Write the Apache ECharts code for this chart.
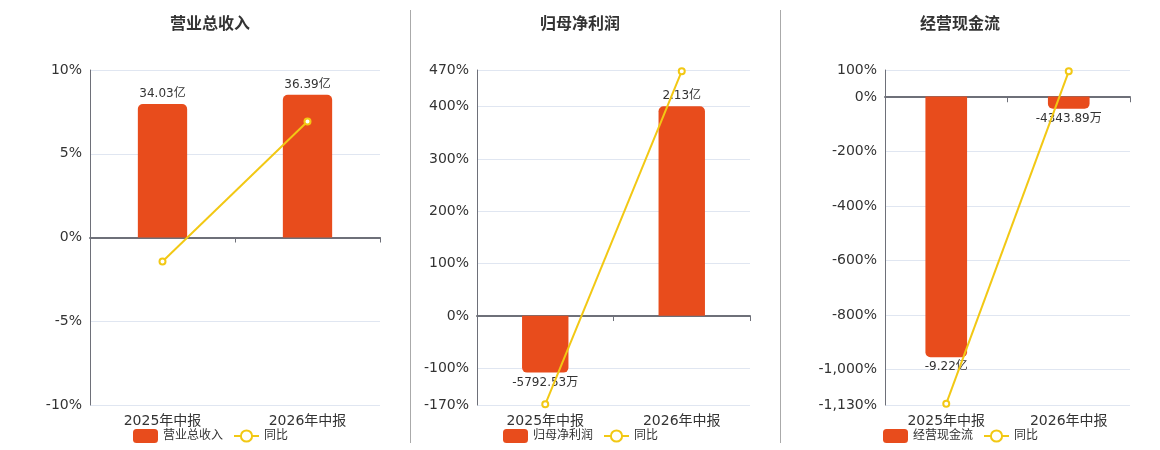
<!DOCTYPE html>
<html><head><meta charset="utf-8">
<script src="https://cdn.jsdelivr.net/npm/echarts@6/dist/echarts.min.js"></script>
<style>html,body{margin:0;padding:0;background:#fff}#c{width:1160px;height:450px}</style>
</head><body><div id="c"></div>
<script>
// ---- data ----
const categories = ['2025年中报', '2026年中报'];
const panelTitles = ['营业总收入', '归母净利润', '经营现金流'];
const yoyName = '同比';
// bar values in 亿
const revenueValues = [34.03, 36.39];
const revenueLabels = ['34.03亿', '36.39亿'];
const revenueYoY = [-1.43, 6.93];
const profitValues = [-0.579253, 2.13];
const profitLabels = ['-5792.53万', '2.13亿'];
const profitYoY = [-168.6, 467.7];
const cashValues = [-9.22, -0.434389];
const cashLabels = ['-9.22亿', '-4343.89万'];
const cashYoY = [-1125, 95.29];
// percentage tick labels
const revenueTicks = [-10, -5, 0, 5, 10];
const profitTicks = [-170, -100, 0, 100, 200, 300, 400, 470];
const cashTicks = [-1130, -1000, -800, -600, -400, -200, 0, 100];

// ---- layout / style ----
const FONT = "'DejaVu Sans','Noto Sans CJK SC',sans-serif";
const BAR_COLOR = '#E84C1C';
const LINE_COLOR = '#F2C814';
const panels = [
  { values: revenueValues, labels: revenueLabels, yoy: revenueYoY, ticks: revenueTicks,
    grid: { left: 90, right: 780 }, center: 210, legendLeft: 128, barRange: [-42.7, 42.7] },
  { values: profitValues, labels: profitLabels, yoy: profitYoY, ticks: profitTicks,
    grid: { left: 477, right: 410 }, center: 580, legendLeft: 498, barRange: [-0.909, 2.50] },
  { values: cashValues, labels: cashLabels, yoy: cashYoY, ticks: cashTicks,
    grid: { left: 885, right: 30 }, center: 960, legendLeft: 878, barRange: [-10.91, 0.934] }
];

const fmtPct = v => Number(v).toLocaleString('en-US') + '%';

const option = {
  animation: false,
  textStyle: { fontFamily: FONT },
  title: [], legend: [], grid: [], xAxis: [], yAxis: [], series: [],
  graphic: [
    { type: 'line', shape: { x1: 410.5, y1: 10, x2: 410.5, y2: 443 }, style: { stroke: '#aaaaaa', lineWidth: 1 } },
    { type: 'line', shape: { x1: 780.5, y1: 10, x2: 780.5, y2: 443 }, style: { stroke: '#aaaaaa', lineWidth: 1 } }
  ]
};

panels.forEach((p, i) => {
  option.title.push({
    text: panelTitles[i], left: p.center - 5, top: 12, textAlign: 'center',
    textStyle: { fontSize: 16, fontWeight: 'bold', color: '#333', fontFamily: FONT }
  });
  option.legend.push({
    left: p.legendLeft, top: 424, itemWidth: 25, itemHeight: 14, itemGap: 10,
    textStyle: { fontSize: 12, color: '#333', fontFamily: FONT },
    data: [panelTitles[i], yoyName]
  });
  option.grid.push({ left: p.grid.left, right: p.grid.right, top: 70, bottom: 45, containLabel: false });
  // label axis at bottom
  option.xAxis.push({
    type: 'category', gridIndex: i, data: categories, position: 'bottom',
    axisLine: { show: false, onZero: false }, axisTick: { show: false },
    axisLabel: { fontSize: 14, color: '#333', margin: 9, fontFamily: FONT }
  });
  // zero line axis
  option.xAxis.push({
    type: 'category', gridIndex: i, data: categories, position: 'bottom',
    axisLine: { show: true, onZero: true, onZeroAxisIndex: 2 * i, lineStyle: { color: '#6E7079', width: 2 } },
    axisTick: { show: true, length: 5, lineStyle: { color: '#6E7079' } },
    axisLabel: { show: false }
  });
  const tMin = p.ticks[0], tMax = p.ticks[p.ticks.length - 1];
  const yPct = {
    type: 'value', gridIndex: i, min: tMin, max: tMax, position: 'left',
    axisLine: { show: true, lineStyle: { color: '#6E7079' } },
    axisTick: { show: false, customValues: p.ticks },
    axisLabel: { fontSize: 14, color: '#333', fontFamily: FONT, formatter: fmtPct, customValues: p.ticks },
    splitLine: { show: true, lineStyle: { color: '#E0E6F1' } }
  };
  if (i === 0) { yPct.interval = 5; delete yPct.axisTick.customValues; delete yPct.axisLabel.customValues; }
  option.yAxis.push(yPct);
  option.yAxis.push({
    type: 'value', gridIndex: i, show: false, min: p.barRange[0], max: p.barRange[1],
    splitLine: { show: false }
  });
  option.series.push({
    name: panelTitles[i], type: 'bar', xAxisIndex: 2 * i, yAxisIndex: 2 * i + 1,
    barWidth: '34%', color: BAR_COLOR,
    data: p.values.map((v, k) => ({
      value: v,
      itemStyle: { color: BAR_COLOR, borderRadius: v >= 0 ? [5, 5, 0, 0] : [0, 0, 5, 5] },
      label: {
        show: true, position: v >= 0 ? 'top' : 'bottom', distance: 4,
        formatter: p.labels[k], fontSize: 12, color: '#333', fontFamily: FONT
      }
    }))
  });
  option.series.push({
    name: yoyName, type: 'line', xAxisIndex: 2 * i, yAxisIndex: 2 * i, z: 5,
    symbol: 'emptyCircle', symbolSize: 6, color: LINE_COLOR,
    lineStyle: { color: LINE_COLOR, width: 2 }, itemStyle: { color: LINE_COLOR },
    data: p.yoy
  });
});

const chart = echarts.init(document.getElementById('c'));
chart.setOption(option);
</script>
</body></html>
